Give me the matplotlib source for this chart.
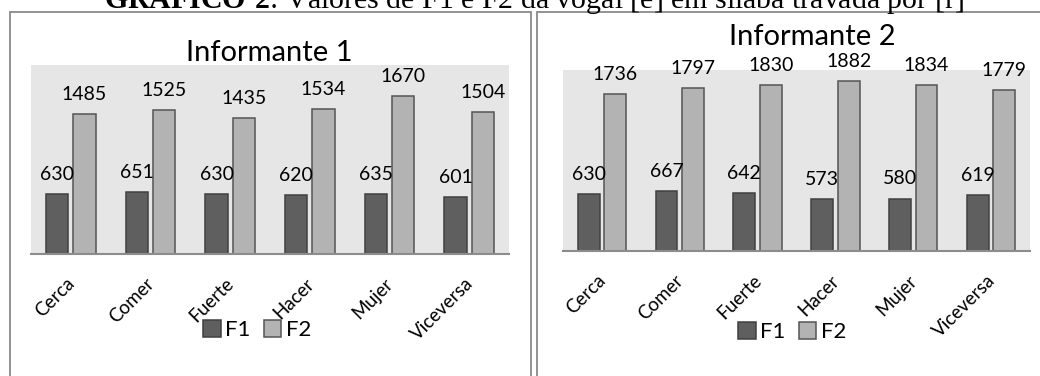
import matplotlib
matplotlib.use("Agg")
import matplotlib.pyplot as plt
from matplotlib.patches import Rectangle, Patch
from matplotlib.transforms import ScaledTranslation
import numpy as np

categories = ["Cerca", "Comer", "Fuerte", "Hacer", "Mujer", "Viceversa"]
inf1_f1 = [630, 651, 630, 620, 635, 601]
inf1_f2 = [1485, 1525, 1435, 1534, 1670, 1504]
inf2_f1 = [630, 667, 642, 573, 580, 619]
inf2_f2 = [1736, 1797, 1830, 1882, 1834, 1779]
panel_titles = ["Informante 1", "Informante 2"]
series_names = ["F1", "F2"]

plt.rcParams["mathtext.fontset"] = "custom"
plt.rcParams["mathtext.rm"] = "Liberation Serif"
plt.rcParams["mathtext.bf"] = "Liberation Serif:bold"

W, H = 1040, 376
DPI = 100
fig = plt.figure(figsize=(W / DPI, H / DPI), dpi=DPI)
fig.patch.set_facecolor("white")

FONT = "Lato"
C_F1, C_F2 = "#5f5f5f", "#b3b3b3"
E_F1, E_F2 = "#404040", "#555555"
PLOT_BG = "#e6e6e6"
BOX = "#8a8a8a"


def fx(px):
    return px / W


def fy(py):
    return 1 - py / H


# framed panels
for x0, x1 in [(10, 531), (537, 1046)]:
    fig.patches.append(Rectangle((fx(x0), fy(390)), fx(x1 - x0), (390 - 12) / H,
                                 transform=fig.transFigure, fill=False,
                                 edgecolor=BOX, lw=1.3))

# caption across the top (runs past the upper edge of the page)
fig.text(fx(534), fy(7.5),
         r"$\mathbf{GRÁFICO\ 2}$: Valores de F1 e F2 da vogal [e] em sílaba travada por [r]",
         ha="center", va="baseline", fontsize=21.5, family="Liberation Serif",
         color="black")


def panel(rect, f1, f2, title, title_xy, legend_xy):
    ax = fig.add_axes([fx(rect[0]), fy(rect[3]), fx(rect[2] - rect[0]),
                       (rect[3] - rect[1]) / H])
    ax.set_facecolor(PLOT_BG)
    x = np.arange(len(categories))
    w, off = 0.28, 0.17
    b1 = ax.bar(x - off, f1, w, color=C_F1, edgecolor=E_F1, lw=1.1, zorder=2)
    b2 = ax.bar(x + off, f2, w, color=C_F2, edgecolor=E_F2, lw=1.1, zorder=2)
    for bars, vals in [(b1, f1), (b2, f2)]:
        for r, v in zip(bars, vals):
            ax.annotate(f"{v}", (r.get_x() + r.get_width() / 2, v),
                        xytext=(0, 8), textcoords="offset points",
                        ha="center", va="bottom", fontsize=14, family=FONT)
    ax.set_ylim(0, 2000)
    ax.set_xlim(-0.5, len(categories) - 0.5)
    ax.set_yticks([])
    for s in ["top", "right", "left"]:
        ax.spines[s].set_visible(False)
    ax.spines["bottom"].set_color("#8c8c8c")
    ax.spines["bottom"].set_linewidth(1.5)
    ax.set_xticks(x)
    ax.set_xticklabels(categories, rotation=45, ha="right", va="top",
                       fontsize=13.5, family=FONT)
    ax.tick_params(axis="x", length=0, pad=15)
    shift = ScaledTranslation(7 / DPI, 0, fig.dpi_scale_trans)
    for lab in ax.get_xticklabels():
        lab.set_transform(lab.get_transform() + shift)
    fig.text(fx(title_xy[0]), fy(title_xy[1]), title, ha="center", va="center",
             fontsize=21, family=FONT)
    handles = [Patch(facecolor=C_F1, edgecolor=E_F1, lw=1.1),
               Patch(facecolor=C_F2, edgecolor=E_F2, lw=1.1)]
    fig.legend(handles, series_names, loc="center",
               bbox_to_anchor=(fx(legend_xy[0]), fy(legend_xy[1])),
               ncol=2, frameon=False, prop={"family": FONT, "size": 16},
               handlelength=0.8, handleheight=0.8, handletextpad=0.2,
               columnspacing=0.6, borderaxespad=0)
    return ax


panel((31, 65, 509, 254), inf1_f1, inf1_f2, panel_titles[0], (269, 53), (257, 330))
panel((563, 70, 1030, 251), inf2_f1, inf2_f2, panel_titles[1], (812, 37), (792, 332))

fig.savefig("out.png", dpi=DPI, facecolor="white")
